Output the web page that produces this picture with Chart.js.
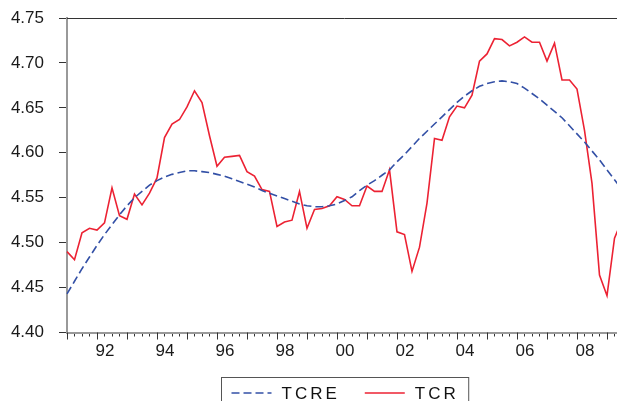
<!DOCTYPE html>
<html>
<head>
<meta charset="utf-8">
<script src="https://cdn.jsdelivr.net/npm/chart.js@4/dist/chart.umd.min.js"></script>
<style>
  html, body { margin: 0; padding: 0; background: #fff; overflow: hidden; }
  canvas { display: block; }
</style>
</head>
<body>
<canvas id="tcrChart" width="640" height="401"></canvas>
<script>
// quarterly observations, 1991Q1 .. 2009Q3
var quarters = [];
for (var yr = 1991; yr <= 2009; yr++) {
  for (var q = 1; q <= 4; q++) {
    if (yr == 2009 && q > 3) break;
    quarters.push(yr + "Q" + q);
  }
}

var tcre = [4.443, 4.457, 4.471, 4.484, 4.497, 4.509, 4.520, 4.531, 4.541, 4.550,
            4.557, 4.564, 4.569, 4.573, 4.576, 4.578, 4.580, 4.580, 4.579, 4.578,
            4.576, 4.574, 4.571, 4.568, 4.565, 4.562, 4.558, 4.555, 4.552, 4.549,
            4.546, 4.543, 4.541, 4.540, 4.540, 4.541, 4.543, 4.547, 4.551, 4.558,
            4.564, 4.569, 4.575, 4.581, 4.590, 4.598, 4.607, 4.616, 4.624, 4.632,
            4.640, 4.648, 4.656, 4.663, 4.669, 4.674, 4.677, 4.679, 4.680, 4.679,
            4.677, 4.672, 4.666, 4.660, 4.653, 4.646, 4.639, 4.630, 4.621, 4.612,
            4.602, 4.592, 4.581, 4.570, 4.559];

var tcr = [4.490, 4.481, 4.511, 4.516, 4.514, 4.522, 4.561, 4.530, 4.526, 4.554,
           4.542, 4.555, 4.572, 4.617, 4.632, 4.637, 4.651, 4.669, 4.656, 4.619,
           4.585, 4.595, 4.596, 4.597, 4.579, 4.574, 4.559, 4.557, 4.518, 4.523,
           4.525, 4.557, 4.516, 4.537, 4.538, 4.541, 4.551, 4.548, 4.541, 4.541,
           4.563, 4.557, 4.557, 4.581, 4.512, 4.509, 4.468, 4.495, 4.544, 4.616,
           4.614, 4.640, 4.652, 4.650, 4.664, 4.702, 4.710, 4.727, 4.726, 4.719,
           4.723, 4.729, 4.723, 4.723, 4.702, 4.722, 4.681, 4.681, 4.671, 4.625,
           4.566, 4.464, 4.441, 4.505, 4.525];

var yTicks = [4.40, 4.45, 4.50, 4.55, 4.60, 4.65, 4.70, 4.75];

var fontFam = "'Liberation Sans', Arial, sans-serif";

// longer tick marks at each year start + frame line on top
var frameAndTicks = {
  id: 'frameAndTicks',
  afterDraw: function(chart) {
    var c = chart.ctx, a = chart.chartArea, xs = chart.scales.x;
    c.save();
    c.strokeStyle = '#333';
    c.lineWidth = 1;
    c.beginPath();
    c.moveTo(a.left, a.top + 0.5);
    c.lineTo(a.right, a.top + 0.5);
    c.moveTo(a.right - 0.5, a.top);
    c.lineTo(a.right - 0.5, a.bottom);
    for (var i = 0; i < quarters.length; i++) {
      if (i % 4 != 0) continue;
      var px = Math.round(xs.getPixelForTick(i)) + 0.5;
      c.moveTo(px, a.bottom);
      c.lineTo(px, a.bottom + 7);
    }
    c.stroke();
    c.restore();
  }
};

// boxed legend under the plot
var boxLegend = {
  id: 'boxLegend',
  afterDraw: function(chart) {
    var c = chart.ctx, a = chart.chartArea;
    var ds = chart.data.datasets;
    c.save();
    c.font = '17px ' + fontFam;
    c.letterSpacing = '3px';
    var sample = 40, pad = 10, gap = 10, itemGap = 25;
    var total = pad * 2;
    ds.forEach(function(d, k) {
      total += sample + gap + c.measureText(d.label).width;
      if (k > 0) total += itemGap;
    });
    var L = Math.round((a.left + a.right) / 2 - total / 2) + 0.5;
    var T = 377.5, yc = 393;
    c.strokeStyle = '#555';
    c.lineWidth = 1;
    c.strokeRect(L, T, total, 40);
    var x = L + pad;
    ds.forEach(function(d, k) {
      c.beginPath();
      c.strokeStyle = d.borderColor;
      c.lineWidth = d.borderWidth;
      c.setLineDash(d.borderDash || []);
      c.moveTo(x, yc);
      c.lineTo(x + sample, yc);
      c.stroke();
      c.setLineDash([]);
      x += sample + gap;
      c.fillStyle = '#111';
      c.textBaseline = 'middle';
      c.fillText(d.label, x, yc + 1);
      x += c.measureText(d.label).width + itemGap;
    });
    c.restore();
  }
};

var ctx = document.getElementById('tcrChart');
var tcrChart = new Chart(ctx, {
  type: 'line',
  data: {
    labels: quarters,
    datasets: [{
      label: 'TCRE',
      data: tcre,
      borderColor: '#3350a6',
      borderWidth: 1.6,
      borderDash: [8, 4],
      pointRadius: 0,
      fill: false
    }, {
      label: 'TCR',
      data: tcr,
      borderColor: '#ec2233',
      borderWidth: 1.6,
      pointRadius: 0,
      fill: false
    }]
  },
  options: {
    responsive: false,
    animation: false,
    devicePixelRatio: 1,
    layout: { padding: { left: 0, top: 18, right: 18, bottom: 0 } },
    plugins: {
      legend: { display: false },
      tooltip: { enabled: false },
      title: { display: false }
    },
    scales: {
      x: {
        type: 'category',
        offset: false,
        border: { display: true, color: '#999', width: 2 },
        grid: { drawOnChartArea: false, drawTicks: true, tickLength: 4, tickColor: '#333', tickWidth: 1 },
        ticks: {
          autoSkip: false,
          maxRotation: 0,
          minRotation: 0,
          padding: 5,
          labelOffset: 8,
          color: '#1a1a1a',
          font: { family: fontFam, size: 17 },
          callback: function(v, i) {
            var lab = quarters[i];
            if (lab.slice(5) != '1') return '';
            var yy = Number(lab.slice(0, 4));
            if (yy % 2 != 0) return '';
            return lab.slice(2, 4);
          }
        },
        afterFit: function(s) { s.height = 68.5; s.paddingLeft = 0; s.paddingRight = 0; }
      },
      y: {
        min: 4.40,
        max: 4.75,
        afterBuildTicks: function(s) {
          s.ticks = yTicks.map(function(v) { return { value: v }; });
        },
        border: { display: true, color: '#999', width: 2 },
        grid: { drawOnChartArea: false, drawTicks: true, tickLength: 8, tickColor: '#333', tickWidth: 1 },
        ticks: {
          padding: 15,
          color: '#1a1a1a',
          font: { family: fontFam, size: 17 },
          callback: function(v) { return Number(v).toFixed(2); }
        },
        afterFit: function(s) { s.width = 67; s.paddingTop = 0; s.paddingBottom = 0; }
      }
    }
  },
  plugins: [frameAndTicks, boxLegend]
});
</script>
</body>
</html>
